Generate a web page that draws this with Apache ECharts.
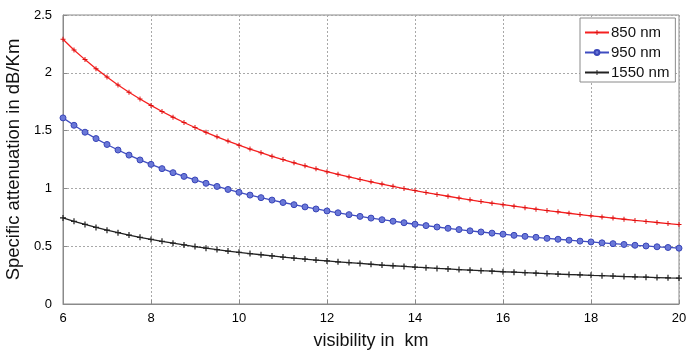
<!DOCTYPE html>
<html>
<head>
<meta charset="utf-8">
<script src="https://cdn.jsdelivr.net/npm/echarts@6/dist/echarts.min.js"></script>
<style>
html,body{margin:0;padding:0;background:#fff;}
#chart{width:686px;height:353px;}
</style>
</head>
<body>
<div id="chart"></div>
<script>
var visibility = [6,6.25,6.5,6.75,7,7.25,7.5,7.75,8,8.25,8.5,8.75,9,9.25,9.5,9.75,10,10.25,10.5,10.75,11,11.25,11.5,11.75,12,12.25,12.5,12.75,13,13.25,13.5,13.75,14,14.25,14.5,14.75,15,15.25,15.5,15.75,16,16.25,16.5,16.75,17,17.25,17.5,17.75,18,18.25,18.5,18.75,19,19.25,19.5,19.75,20];
var att850 = [2.290,2.198,2.114,2.036,1.963,1.895,1.832,1.773,1.718,1.665,1.616,1.570,1.527,1.485,1.446,1.409,1.374,1.340,1.309,1.278,1.249,1.221,1.195,1.169,1.145,1.122,1.099,1.078,1.057,1.037,1.018,0.999,0.981,0.964,0.948,0.932,0.916,0.901,0.886,0.872,0.859,0.846,0.833,0.820,0.808,0.797,0.785,0.774,0.763,0.753,0.743,0.733,0.723,0.714,0.705,0.696,0.687];
var att950 = [1.610,1.546,1.486,1.431,1.380,1.332,1.288,1.246,1.208,1.171,1.136,1.104,1.073,1.044,1.017,0.991,0.966,0.942,0.920,0.899,0.878,0.859,0.840,0.822,0.805,0.789,0.773,0.758,0.743,0.729,0.716,0.703,0.690,0.678,0.666,0.655,0.644,0.633,0.623,0.613,0.604,0.594,0.585,0.577,0.568,0.560,0.552,0.544,0.537,0.529,0.522,0.515,0.508,0.502,0.495,0.489,0.483];
var att1550 = [0.745,0.715,0.688,0.662,0.639,0.617,0.596,0.577,0.559,0.542,0.526,0.511,0.497,0.483,0.471,0.458,0.447,0.436,0.426,0.416,0.406,0.397,0.389,0.380,0.373,0.365,0.358,0.351,0.344,0.337,0.331,0.325,0.319,0.314,0.308,0.303,0.298,0.293,0.288,0.284,0.279,0.275,0.271,0.267,0.263,0.259,0.255,0.252,0.248,0.245,0.242,0.238,0.235,0.232,0.229,0.226,0.224];
var seriesNames = ['850 nm','950 nm','1550 nm'];
var xTicks = {min:6, max:20, interval:2};
var yTicks = {min:0, max:2.5, interval:0.5};

function pairs(xs, ys){ return xs.map(function(x,i){ return [x, ys[i]]; }); }

var plusPath = 'path://M4,0h2v4h4v2h-4v4h-2v-4h-4v-2h4z';
var font = '"Liberation Sans", Arial, sans-serif';

var chart = echarts.init(document.getElementById('chart'), null, {renderer:'canvas'});
chart.setOption({
  animation:false,
  backgroundColor:'#fff',
  grid:{left:63, right:7, top:15, bottom:49, outerBoundsMode:'none', containLabel:false,
        show:true, borderColor:'#8a8a8a', borderWidth:1, backgroundColor:'#fff'},
  legend:{
    orient:'vertical', left:580, top:18, width:96,
    backgroundColor:'#fff', borderColor:'#8a8a8a', borderWidth:1,
    padding:[7,6,2,4], itemGap:5, itemWidth:24, itemHeight:6,
    textStyle:{fontFamily:font, fontSize:15, color:'#111', padding:[0,0,0,-3]},
    data:seriesNames
  },
  xAxis:{
    type:'value', min:xTicks.min, max:xTicks.max, interval:xTicks.interval,
    name:'visibility in  km', nameLocation:'middle', nameGap:28,
    nameTextStyle:{fontFamily:font, fontSize:18, color:'#111'},
    axisLine:{show:true, lineStyle:{color:'#8a8a8a'}},
    axisTick:{show:true, inside:true, length:4, lineStyle:{color:'#8a8a8a'}},
    axisLabel:{fontFamily:font, fontSize:13, color:'#000', margin:8},
    splitLine:{show:true, lineStyle:{color:'#a8a8a8', type:[2,2], width:1}}
  },
  yAxis:{
    type:'value', min:yTicks.min, max:yTicks.max, interval:yTicks.interval,
    name:'Specific attenuation in dB/Km', nameLocation:'middle', nameGap:40,
    nameTextStyle:{fontFamily:font, fontSize:18.5, color:'#111'},
    axisLine:{show:true, lineStyle:{color:'#8a8a8a'}},
    axisTick:{show:true, inside:true, length:4, lineStyle:{color:'#8a8a8a'}},
    axisLabel:{fontFamily:font, fontSize:13, color:'#000', margin:11},
    splitLine:{show:true, lineStyle:{color:'#a8a8a8', type:[2,2], width:1}}
  },
  series:[
    {name:seriesNames[0], type:'line', data:pairs(visibility, att850),
     color:'#f52020', lineStyle:{width:1.3, color:'#f52020'},
     symbol:plusPath, symbolSize:5, itemStyle:{color:'#e01010'}},
    {name:seriesNames[1], type:'line', data:pairs(visibility, att950),
     color:'#4a55c8', lineStyle:{width:1.3, color:'#3f4cc0'},
     symbol:'circle', symbolSize:6, itemStyle:{color:'#6a78d8', borderColor:'#3a46b8', borderWidth:1}},
    {name:seriesNames[2], type:'line', data:pairs(visibility, att1550),
     color:'#222', lineStyle:{width:1.3, color:'#222'},
     symbol:plusPath, symbolSize:6, itemStyle:{color:'#222'}}
  ]
});
</script>
</body>
</html>
